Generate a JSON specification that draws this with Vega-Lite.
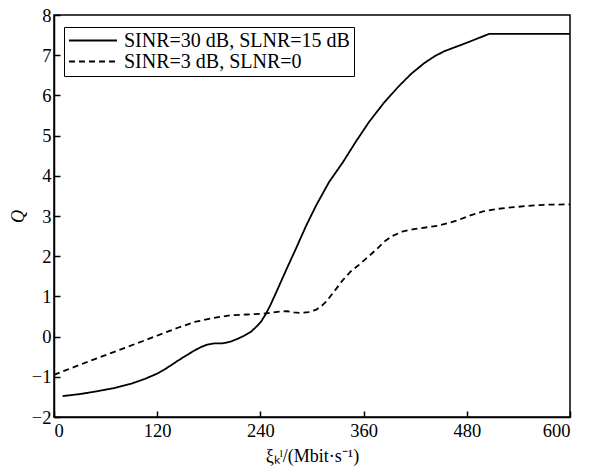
{
  "$schema": "https://vega.github.io/schema/vega-lite/v6.json",
  "width": 516,
  "height": 402,
  "autosize": {"type": "none"},
  "padding": {"left": 54, "top": 15, "right": 25, "bottom": 59},
  "background": "white",
  "config": {
    "view": {"stroke": "black", "strokeWidth": 1.5},
    "font": "Times New Roman, Liberation Serif, serif",
    "axis": {
      "labelFont": "Times New Roman, Liberation Serif, serif", "labelFontSize": 18.5, "labelColor": "black",
      "titleFont": "Times New Roman, Liberation Serif, serif", "titleFontSize": 18, "titleColor": "black", "titleFontWeight": "normal",
      "domainColor": "black", "domainWidth": 1.5, "tickColor": "black", "tickWidth": 1.5,
      "tickSize": -6, "grid": false
    },
    "legend": {"labelFont": "Times New Roman, Liberation Serif, serif"}
  },
  "data": {"values": [
      {"x": 10, "y": -1.48, "s": "SINR=30 dB, SLNR=15 dB"}, {"x": 30, "y": -1.43, "s": "SINR=30 dB, SLNR=15 dB"},
      {"x": 50, "y": -1.36, "s": "SINR=30 dB, SLNR=15 dB"}, {"x": 70, "y": -1.28, "s": "SINR=30 dB, SLNR=15 dB"},
      {"x": 90, "y": -1.17, "s": "SINR=30 dB, SLNR=15 dB"}, {"x": 106, "y": -1.05, "s": "SINR=30 dB, SLNR=15 dB"},
      {"x": 120, "y": -0.92, "s": "SINR=30 dB, SLNR=15 dB"}, {"x": 129, "y": -0.81, "s": "SINR=30 dB, SLNR=15 dB"},
      {"x": 137, "y": -0.70, "s": "SINR=30 dB, SLNR=15 dB"}, {"x": 144, "y": -0.60, "s": "SINR=30 dB, SLNR=15 dB"},
      {"x": 153, "y": -0.48, "s": "SINR=30 dB, SLNR=15 dB"}, {"x": 163, "y": -0.35, "s": "SINR=30 dB, SLNR=15 dB"},
      {"x": 171, "y": -0.26, "s": "SINR=30 dB, SLNR=15 dB"}, {"x": 178, "y": -0.20, "s": "SINR=30 dB, SLNR=15 dB"},
      {"x": 186, "y": -0.17, "s": "SINR=30 dB, SLNR=15 dB"}, {"x": 196, "y": -0.17, "s": "SINR=30 dB, SLNR=15 dB"},
      {"x": 206, "y": -0.12, "s": "SINR=30 dB, SLNR=15 dB"}, {"x": 214, "y": -0.05, "s": "SINR=30 dB, SLNR=15 dB"},
      {"x": 221, "y": 0.02, "s": "SINR=30 dB, SLNR=15 dB"}, {"x": 229, "y": 0.12, "s": "SINR=30 dB, SLNR=15 dB"},
      {"x": 236, "y": 0.26, "s": "SINR=30 dB, SLNR=15 dB"}, {"x": 241, "y": 0.38, "s": "SINR=30 dB, SLNR=15 dB"},
      {"x": 246, "y": 0.55, "s": "SINR=30 dB, SLNR=15 dB"}, {"x": 252, "y": 0.80, "s": "SINR=30 dB, SLNR=15 dB"},
      {"x": 259, "y": 1.13, "s": "SINR=30 dB, SLNR=15 dB"}, {"x": 270, "y": 1.66, "s": "SINR=30 dB, SLNR=15 dB"},
      {"x": 282, "y": 2.22, "s": "SINR=30 dB, SLNR=15 dB"}, {"x": 293, "y": 2.75, "s": "SINR=30 dB, SLNR=15 dB"},
      {"x": 305, "y": 3.27, "s": "SINR=30 dB, SLNR=15 dB"}, {"x": 320, "y": 3.85, "s": "SINR=30 dB, SLNR=15 dB"},
      {"x": 336, "y": 4.34, "s": "SINR=30 dB, SLNR=15 dB"}, {"x": 351, "y": 4.85, "s": "SINR=30 dB, SLNR=15 dB"},
      {"x": 366, "y": 5.33, "s": "SINR=30 dB, SLNR=15 dB"}, {"x": 383, "y": 5.80, "s": "SINR=30 dB, SLNR=15 dB"},
      {"x": 401, "y": 6.23, "s": "SINR=30 dB, SLNR=15 dB"}, {"x": 416, "y": 6.55, "s": "SINR=30 dB, SLNR=15 dB"},
      {"x": 431, "y": 6.81, "s": "SINR=30 dB, SLNR=15 dB"}, {"x": 443, "y": 6.98, "s": "SINR=30 dB, SLNR=15 dB"},
      {"x": 454, "y": 7.10, "s": "SINR=30 dB, SLNR=15 dB"}, {"x": 480, "y": 7.31, "s": "SINR=30 dB, SLNR=15 dB"},
      {"x": 506, "y": 7.53, "s": "SINR=30 dB, SLNR=15 dB"}, {"x": 600, "y": 7.53, "s": "SINR=30 dB, SLNR=15 dB"},
      {"x": 0, "y": -0.95, "s": "SINR=3 dB, SLNR=0"}, {"x": 40, "y": -0.62, "s": "SINR=3 dB, SLNR=0"},
      {"x": 80, "y": -0.30, "s": "SINR=3 dB, SLNR=0"}, {"x": 106, "y": -0.09, "s": "SINR=3 dB, SLNR=0"},
      {"x": 144, "y": 0.22, "s": "SINR=3 dB, SLNR=0"}, {"x": 165, "y": 0.37, "s": "SINR=3 dB, SLNR=0"},
      {"x": 182, "y": 0.45, "s": "SINR=3 dB, SLNR=0"}, {"x": 205, "y": 0.53, "s": "SINR=3 dB, SLNR=0"},
      {"x": 225, "y": 0.55, "s": "SINR=3 dB, SLNR=0"}, {"x": 244, "y": 0.57, "s": "SINR=3 dB, SLNR=0"},
      {"x": 262, "y": 0.62, "s": "SINR=3 dB, SLNR=0"}, {"x": 271, "y": 0.63, "s": "SINR=3 dB, SLNR=0"},
      {"x": 279, "y": 0.60, "s": "SINR=3 dB, SLNR=0"}, {"x": 286, "y": 0.59, "s": "SINR=3 dB, SLNR=0"},
      {"x": 296, "y": 0.61, "s": "SINR=3 dB, SLNR=0"}, {"x": 305, "y": 0.67, "s": "SINR=3 dB, SLNR=0"},
      {"x": 311, "y": 0.76, "s": "SINR=3 dB, SLNR=0"}, {"x": 317, "y": 0.88, "s": "SINR=3 dB, SLNR=0"},
      {"x": 326, "y": 1.13, "s": "SINR=3 dB, SLNR=0"}, {"x": 336, "y": 1.41, "s": "SINR=3 dB, SLNR=0"},
      {"x": 345, "y": 1.62, "s": "SINR=3 dB, SLNR=0"}, {"x": 355, "y": 1.79, "s": "SINR=3 dB, SLNR=0"},
      {"x": 365, "y": 1.98, "s": "SINR=3 dB, SLNR=0"}, {"x": 375, "y": 2.17, "s": "SINR=3 dB, SLNR=0"},
      {"x": 384, "y": 2.36, "s": "SINR=3 dB, SLNR=0"}, {"x": 393, "y": 2.50, "s": "SINR=3 dB, SLNR=0"},
      {"x": 406, "y": 2.62, "s": "SINR=3 dB, SLNR=0"}, {"x": 420, "y": 2.68, "s": "SINR=3 dB, SLNR=0"},
      {"x": 434, "y": 2.72, "s": "SINR=3 dB, SLNR=0"}, {"x": 447, "y": 2.76, "s": "SINR=3 dB, SLNR=0"},
      {"x": 458, "y": 2.82, "s": "SINR=3 dB, SLNR=0"}, {"x": 470, "y": 2.90, "s": "SINR=3 dB, SLNR=0"},
      {"x": 485, "y": 3.02, "s": "SINR=3 dB, SLNR=0"}, {"x": 500, "y": 3.12, "s": "SINR=3 dB, SLNR=0"},
      {"x": 517, "y": 3.18, "s": "SINR=3 dB, SLNR=0"}, {"x": 535, "y": 3.22, "s": "SINR=3 dB, SLNR=0"},
      {"x": 555, "y": 3.26, "s": "SINR=3 dB, SLNR=0"}, {"x": 573, "y": 3.28, "s": "SINR=3 dB, SLNR=0"},
      {"x": 600, "y": 3.29, "s": "SINR=3 dB, SLNR=0"}
  ]},
  "mark": {"type": "line", "color": "black", "strokeWidth": 1.8},
  "encoding": {
    "x": {
      "field": "x", "type": "quantitative",
      "scale": {"domain": [0, 600], "nice": false},
      "axis": {"values": [0, 120, 240, 360, 480, 600], "title": "ξₖˡ/(Mbit·s⁻¹)", "labelPadding": 10, "titlePadding": 8}
    },
    "y": {
      "field": "y", "type": "quantitative",
      "scale": {"domain": [-2, 8], "nice": false},
      "axis": {"values": [-2, -1, 0, 1, 2, 3, 4, 5, 6, 7, 8], "title": "Q", "titleFontStyle": "italic", "labelPadding": 9, "titlePadding": 4}
    },
    "strokeDash": {
      "field": "s", "type": "nominal",
      "scale": {"domain": ["SINR=30 dB, SLNR=15 dB", "SINR=3 dB, SLNR=0"], "range": [[1, 0], [6, 4]]},
      "legend": {
        "title": null, "orient": "none", "legendX": 10, "legendY": 12,
        "strokeColor": "black", "padding": 4, "symbolType": "stroke", "symbolSize": 2300,
        "symbolStrokeWidth": 1.8, "symbolStrokeColor": "black", "clipHeight": 19,
        "labelFontSize": 20, "labelColor": "black", "labelLimit": 400,
        "rowPadding": 0, "labelOffset": 6
      }
    }
  }
}
